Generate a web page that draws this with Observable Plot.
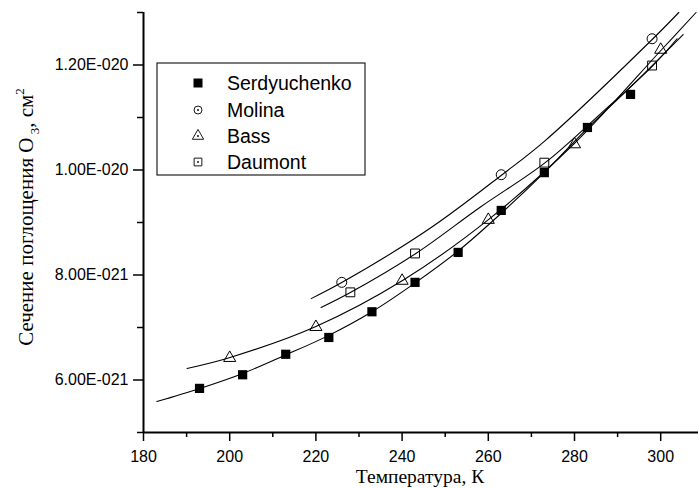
<!DOCTYPE html>
<html><head><meta charset="utf-8">
<script src="https://cdn.jsdelivr.net/npm/d3@7"></script>
<script src="https://cdn.jsdelivr.net/npm/@observablehq/plot@0.6"></script>
<style>body{margin:0;background:#fff} svg{display:block}</style>
</head><body><div id="chart"></div>
<script>
// Measured points
const serdT = [193, 203, 213, 223, 233, 243, 253, 263, 273, 283, 293];
const serdV = [5.84e-21, 6.10e-21, 6.49e-21, 6.81e-21, 7.30e-21, 7.86e-21, 8.43e-21, 9.23e-21, 9.95e-21, 1.081e-20, 1.144e-20];
const molinaT = [226, 263, 298];
const molinaV = [7.86e-21, 9.91e-21, 1.250e-20];
const bassT = [200, 220, 240, 260, 280, 300];
const bassV = [6.42e-21, 7.01e-21, 7.89e-21, 9.05e-21, 1.049e-20, 1.229e-20];
const daumontT = [228, 243, 273, 298];
const daumontV = [7.67e-21, 8.41e-21, 1.014e-20, 1.199e-20];

// Fit curves
const serdFitT = [183.1, 193.1, 202.9, 212.8, 223.0, 233.0, 243.2, 253.2, 263.2, 273.2, 282.9, 293.1, 305.2];
const serdFitV = [5.59e-21, 5.84e-21, 6.12e-21, 6.47e-21, 6.85e-21, 7.30e-21, 7.86e-21, 8.47e-21, 9.19e-21, 9.97e-21, 1.079e-20, 1.159e-20, 1.258e-20];
const bassFitT = [190.1, 200.1, 220.0, 240.2, 260.1, 279.9, 300.3, 308.2];
const bassFitV = [6.22e-21, 6.43e-21, 7.02e-21, 7.90e-21, 9.06e-21, 1.050e-20, 1.230e-20, 1.300e-20];
const molinaFitT = [218.9, 226.1, 246.5, 263.2, 273.2, 298.2, 304.2];
const molinaFitV = [7.55e-21, 7.86e-21, 8.89e-21, 9.91e-21, 1.056e-20, 1.250e-20, 1.300e-20];
const daumontFitT = [221.2, 228.1, 243.2, 258.1, 273.2, 285.9, 298.2, 303.8];
const daumontFitV = [7.38e-21, 7.67e-21, 8.41e-21, 9.29e-21, 1.014e-20, 1.106e-20, 1.199e-20, 1.250e-20];

// Axis ticks
const xMajor = [180, 200, 220, 240, 260, 280, 300];
const xMinor = [190, 210, 230, 250, 270, 290];
const yMajor = [6e-21, 8e-21, 1e-20, 1.2e-20];
const yMinor = [5e-21, 7e-21, 9e-21, 1.1e-20, 1.3e-20];

const seriesNames = ["Serdyuchenko", "Molina", "Bass", "Daumont"];

const rows = (T, V) => T.map((t, i) => ({T: t, V: V[i]}));
const fmt = d => {
  const [m, e] = d.toExponential(2).split("e");
  const neg = e[0] === "-";
  const digits = e.replace(/[+-]/, "").padStart(3, "0");
  return `${m}E${neg ? "-" : ""}${digits}`;
};

const lineOpts = {x: "T", y: "V", curve: "catmull-rom", stroke: "black", strokeWidth: 1.1};

const plot = Plot.plot({
  width: 698, height: 488,
  marginLeft: 143, marginRight: 0, marginTop: 12, marginBottom: 56,
  x: {domain: [180, 308.77]},
  y: {domain: [5e-21, 1.3e-20]},
  style: {fontFamily: "'Liberation Sans', Arial, sans-serif", fontSize: "16px", background: "white", color: "black"},
  marks: [
    Plot.axisY(yMajor, {tickSize: 10, tickPadding: 5, tickFormat: fmt, label: null, strokeWidth: 1.5, fontSize: 16}),
    Plot.axisY(yMinor, {tickSize: 6, tickFormat: () => "", label: null, strokeWidth: 1.5}),
    Plot.axisX(xMajor, {tickSize: 9, tickPadding: 9, tickFormat: d => String(d), label: null, strokeWidth: 1.5, fontSize: 16}),
    Plot.axisX(xMinor, {tickSize: 5, tickFormat: () => "", label: null, strokeWidth: 1.5}),
    Plot.ruleX([180], {strokeWidth: 2}),
    Plot.ruleY([5e-21], {strokeWidth: 2}),
    Plot.line(rows(serdFitT, serdFitV), lineOpts),
    Plot.line(rows(bassFitT, bassFitV), lineOpts),
    Plot.line(rows(molinaFitT, molinaFitV), lineOpts),
    Plot.line(rows(daumontFitT, daumontFitV), lineOpts),
    Plot.dot(rows(serdT, serdV), {x: "T", y: "V", symbol: "square", fill: "black", stroke: "none", r: 5.2}),
    Plot.dot(rows(molinaT, molinaV), {x: "T", y: "V", symbol: "circle", fill: "none", stroke: "black", strokeWidth: 1, r: 5}),
    Plot.dot(rows(bassT, bassV), {x: "T", y: "V", symbol: "triangle", fill: "none", stroke: "black", strokeWidth: 1, r: 4.5}),
    Plot.dot(rows(daumontT, daumontV), {x: "T", y: "V", symbol: "square", fill: "none", stroke: "black", strokeWidth: 1, r: 5})
  ]
});

const svg = d3.select(plot);

// Y axis title with sub/superscript
const yt = svg.append("text")
  .attr("transform", "translate(33,217) rotate(-90)")
  .attr("text-anchor", "middle")
  .attr("font-family", "'Liberation Serif', 'Times New Roman', serif")
  .attr("font-size", 21)
  .attr("fill", "black");
yt.append("tspan").text("Сечение поглощения O");
yt.append("tspan").attr("dy", 6).attr("font-size", 13).text(" 3");
yt.append("tspan").attr("dy", -6).text(", см");
yt.append("tspan").attr("dy", -9).attr("font-size", 13).text("2");

// X axis title
svg.append("text")
  .attr("x", 420).attr("y", 483)
  .attr("text-anchor", "middle")
  .attr("font-family", "'Liberation Serif', 'Times New Roman', serif")
  .attr("font-size", 19.5)
  .attr("fill", "black")
  .text("Температура, К");

// Legend
const lg = svg.append("g").attr("text-anchor", "start");
lg.append("rect").attr("x", 157).attr("y", 63).attr("width", 208).attr("height", 112)
  .attr("fill", "white").attr("stroke", "#222").attr("stroke-width", 1.2);
const rowY = [83, 110, 136, 162];
const sym = d3.symbol();
const legendSymbols = [
  {type: d3.symbolSquare, size: 81, fill: "black", dot: false},
  {type: d3.symbolCircle, size: Math.PI * 16, fill: "none", dot: true},
  {type: d3.symbolTriangle, size: 56, fill: "none", dot: true},
  {type: d3.symbolSquare, size: 60, fill: "none", dot: true}
];
seriesNames.forEach((name, i) => {
  const s = legendSymbols[i];
  lg.append("path")
    .attr("transform", `translate(198,${rowY[i]})`)
    .attr("d", sym.type(s.type).size(s.size)())
    .attr("fill", s.fill).attr("stroke", s.fill === "none" ? "black" : "none").attr("stroke-width", 0.9);
  if (s.dot) lg.append("circle").attr("cx", 198).attr("cy", rowY[i]).attr("r", 0.9).attr("fill", "black");
  lg.append("text").attr("x", 227).attr("y", rowY[i] + 7)
    .attr("text-anchor", "start")
    .attr("font-family", "'Liberation Sans', Arial, sans-serif").attr("font-size", 19.5)
    .attr("fill", "black").text(name);
});

document.getElementById("chart").appendChild(plot);
</script>
</body></html>
